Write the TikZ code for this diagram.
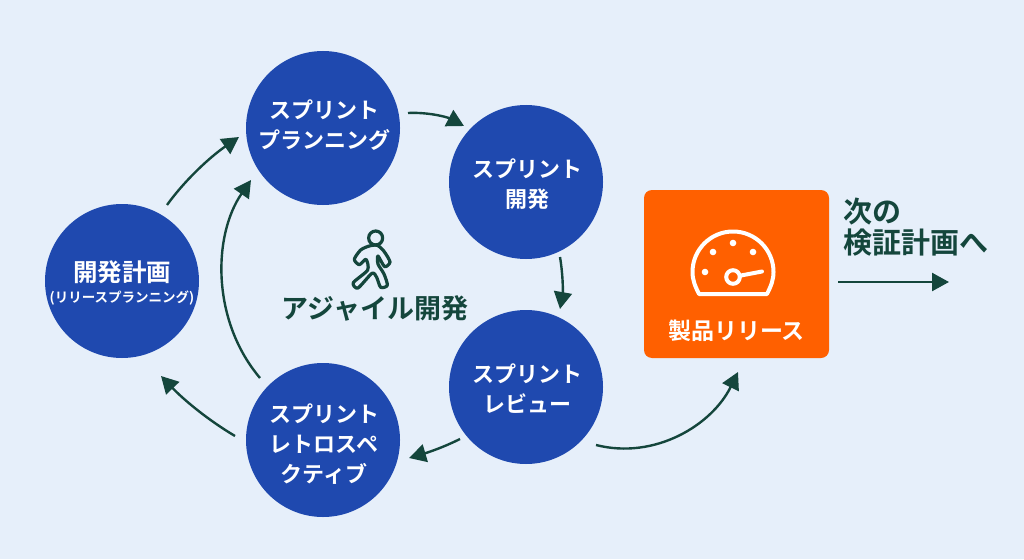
\documentclass[tikz,border=0pt]{standalone}
\usepackage{fontspec}
\setmainfont{Noto Sans CJK JP}[BoldFont={Noto Sans CJK JP Bold}]
\usetikzlibrary{arrows.meta,calc}
\definecolor{bgc}{HTML}{E6EFFA}
\definecolor{blu}{HTML}{1F49AF}
\definecolor{org}{HTML}{FF6000}
\definecolor{grn}{HTML}{14463C}
\tikzset{
 x=1pt,y=-1pt,
 sprint/.style={circle,fill=blu,minimum size=154pt,inner sep=0pt},
 sprinttext/.style={text=white,inner sep=0pt,align=center,font=\bfseries\fontsize{22}{30}\selectfont},
 flow/.style={draw=grn,line width=2.4pt,-{Triangle[length=17pt,width=18pt]}},
 lab/.style={text=grn,font=\bfseries\fontsize{27}{32}\selectfont,inner sep=0pt,align=left},
 icon/.style={draw=white,line width=4pt,line join=round,line cap=round},
 walker/.style={draw=grn,line width=3.2pt,line join=round},
}
\begin{document}
\begin{tikzpicture}
\useasboundingbox (0,0) rectangle (1024,559);
\fill[bgc] (0,0) rectangle (1024,559);
\node[sprint] (plan) at (122,281) {};
\node[text=white,font=\bfseries\fontsize{24.5}{28}\selectfont,inner sep=0pt] (plant) at (122,272) {開発計画};
\node[text=white,font=\bfseries\fontsize{13.5}{15}\selectfont,inner sep=0pt] (plans) at (122,298) {(リリースプランニング)};
\node[sprint] (sp) at (323,128) {};
\node[sprinttext] (spt) at (324,125) {スプリント\\プランニング};
\node[sprint] (dev) at (526,182) {};
\node[sprinttext] (devt) at (527,184) {スプリント\\開発};
\node[sprint] (rev) at (526,387) {};
\node[sprinttext] (revt) at (527,389) {スプリント\\レビュー};
\node[sprint] (ret) at (323,440) {};
\node[sprinttext] (rett) at (324,444) {スプリント\\レトロスペ\\クティブ};
\node[fill=org,rounded corners=8pt,minimum width=185pt,minimum height=168pt,inner sep=0pt] (rel) at (736.5,274) {};
\node[text=white,font=\bfseries\fontsize{23}{26}\selectfont,inner sep=0pt] (relt) at (736.5,331) {製品リリース};
% gauge
\draw[icon] (699,294) .. controls (695,286) and (692.5,280) .. (692.5,272) arc[start angle=180,end angle=360,radius=40.5] .. controls (773.5,280) and (771,286) .. (767,294) -- cycle;
\foreach \p in {(705,272),(713,252),(733,243),(753,252)} \fill[white] \p circle (3.3);
\draw[white,line width=4pt] (733,277) circle (6.8);
\draw[white,line width=4pt,line cap=round] (741,275.5) -- (762,271.5);
% walker
\begin{scope}[shift={(270,220)},x=0.3333pt,y=-0.3333pt]
\draw[walker] (317,54) circle (21);
\draw[walker] plot[smooth cycle,tension=0.45] coordinates {(298,78) (272,90) (253,118) (268,134) (288,118) (293,150) (250,188) (264,204) (306,160) (320,172) (332,202) (352,196) (342,162) (324,132) (324,108) (344,140) (360,126) (342,94) (322,76)};
\end{scope}
\node[lab,anchor=center] (agile) at (375,308) {アジャイル開発};
\node[lab,anchor=north west,font=\bfseries\fontsize{29}{31}\selectfont] (next) at (843,198) {次の\\検証計画へ};
% connectors
\coordinate (a1) at (167,205); \coordinate (b1) at (239,137);
\coordinate (a2) at (408,113); \coordinate (b2) at (464,126);
\coordinate (a3) at (560,257); \coordinate (b3) at (560,309);
\coordinate (a4) at (460,439); \coordinate (b4) at (409,458);
\coordinate (a5) at (235,436); \coordinate (b5) at (161,376);
\coordinate (a6) at (260,378); \coordinate (b6) at (251,180);
\coordinate (a7) at (596,445); \coordinate (b7) at (738,372);
\coordinate (a8) at (838,282); \coordinate (b8) at (949,282);
\draw[flow] (a1) .. controls (185,180) and (210,157) .. (b1);
\draw[flow] (a2) .. controls (428,112) and (447,117) .. (b2);
\draw[flow] (a3) .. controls (563,275) and (563,292) .. (b3);
\draw[flow] (a4) .. controls (442,448) and (426,453) .. (b4);
\draw[flow] (a5) .. controls (208,420) and (184,400) .. (b5);
\draw[flow] (a6) .. controls (211,320) and (213,235) .. (b6);
\draw[flow] (a7) .. controls (655,460) and (712,425) .. (b7);
\draw[flow] (a8) -- (b8);
\end{tikzpicture}
\end{document}
